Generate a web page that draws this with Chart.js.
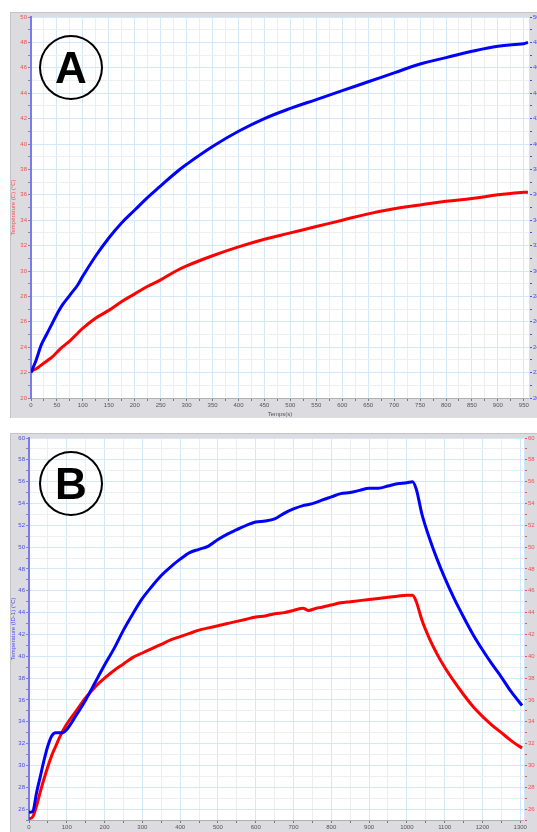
<!DOCTYPE html>
<html>
<head>
<meta charset="utf-8">
<script src="https://cdn.jsdelivr.net/npm/chart.js@4/dist/chart.umd.min.js"></script>
<style>
  html, body { margin: 0; padding: 0; background: #fff; }
  body { width: 537px; height: 832px; overflow: hidden; position: relative; font-family: "Liberation Sans", Arial, sans-serif; }
  canvas { position: absolute; }
  #chartA { left: 10px; top: 12px; }
  #chartB { left: 10px; top: 433px; }
  .badge {
    position: absolute; width: 60px; height: 61px; border: 2px solid #000; border-radius: 50%;
    font: bold 44px "Liberation Sans", Arial, sans-serif; line-height: 61px; text-align: center; color: #000;
  }
</style>
</head>
<body>
<canvas id="chartA" width="535" height="406"></canvas>
<canvas id="chartB" width="535" height="400"></canvas>
<div class="badge" style="left:39px; top:35px;">A</div>
<div class="badge" style="left:39px; top:451px;">B</div>
<script>
// Graphique A : temps (s) et températures (°C)
const timeA = [0, 10, 20, 30, 40, 50, 60, 75, 90, 100, 125, 150, 175, 200, 225, 250, 275, 300, 350, 400, 450, 500, 550, 600, 650, 700, 750, 800, 850, 900, 950, 958];
const blueA = [22.0, 23.0, 24.2, 25.0, 25.8, 26.6, 27.3, 28.1, 28.9, 29.6, 31.2, 32.6, 33.8, 34.8, 35.8, 36.7, 37.6, 38.4, 39.8, 41.0, 42.0, 42.8, 43.5, 44.2, 44.9, 45.6, 46.3, 46.8, 47.3, 47.7, 47.9, 48.0];
const redA = [22.1, 22.3, 22.6, 22.9, 23.2, 23.6, 24.0, 24.5, 25.1, 25.5, 26.3, 26.9, 27.6, 28.2, 28.8, 29.3, 29.9, 30.4, 31.2, 31.9, 32.5, 33.0, 33.5, 34.0, 34.5, 34.9, 35.2, 35.5, 35.7, 36.0, 36.2, 36.2];

// Graphique B
const timeB = [0, 10, 20, 30, 40, 50, 60, 70, 80, 90, 100, 125, 150, 175, 200, 225, 250, 275, 300, 325, 350, 375, 400, 425, 450, 475, 500, 525, 550, 575, 600, 625, 650, 675, 700, 725, 740, 760, 775, 800, 825, 850, 875, 900, 925, 950, 975, 1000, 1015, 1025, 1040, 1060, 1080, 1100, 1125, 1150, 1175, 1200, 1225, 1250, 1275, 1300, 1305];
const blueB = [25.7, 25.8, 27.5, 29.0, 30.5, 31.8, 32.7, 33.0, 33.0, 33.0, 33.3, 34.6, 36.0, 37.6, 39.2, 40.7, 42.4, 43.9, 45.3, 46.4, 47.4, 48.2, 48.9, 49.5, 49.8, 50.1, 50.7, 51.2, 51.6, 52.0, 52.3, 52.4, 52.6, 53.1, 53.5, 53.8, 53.9, 54.1, 54.3, 54.6, 54.9, 55.0, 55.2, 55.4, 55.4, 55.6, 55.8, 55.9, 56.0, 55.3, 53.0, 50.8, 48.9, 47.2, 45.3, 43.6, 42.0, 40.6, 39.3, 38.1, 36.8, 35.7, 35.5];
const redB = [25.1, 25.3, 26.3, 27.6, 28.8, 29.9, 30.9, 31.7, 32.5, 33.2, 33.8, 35.0, 36.2, 37.2, 38.0, 38.7, 39.3, 39.9, 40.3, 40.7, 41.1, 41.5, 41.8, 42.1, 42.4, 42.6, 42.8, 43.0, 43.2, 43.4, 43.6, 43.7, 43.9, 44.0, 44.2, 44.4, 44.2, 44.4, 44.5, 44.7, 44.9, 45.0, 45.1, 45.2, 45.3, 45.4, 45.5, 45.6, 45.6, 45.0, 43.3, 41.6, 40.2, 39.0, 37.7, 36.5, 35.4, 34.5, 33.7, 33.0, 32.3, 31.7, 31.6];

const titleA = 'Température (C) (°C)';
const titleB = 'Temperature (ID-1) (°C)';
const xTitleA = 'Temps(s)';

Chart.defaults.font.family = '"Liberation Sans", Arial, sans-serif';
Chart.defaults.font.size = 6;

const BLUE = '#0000ff';
const RED = '#ff0000';
const GRID_MAJOR = '#d3e9f9';
const GRID_MINOR = '#eeeeee';

function toPoints(xs, ys) {
    return xs.map((x, i) => ({ x: x, y: ys[i] }));
}

// fond gris du cadre + zone blanche
const framePlugin = {
    id: 'frame',
    beforeDraw(chart) {
        const ctx = chart.ctx;
        const a = chart.chartArea;
        ctx.save();
        ctx.fillStyle = '#dcdce0';
        ctx.fillRect(0, 0, chart.width, chart.height);
        ctx.fillStyle = '#c4c4c8';
        ctx.fillRect(0, 0, chart.width, 1);
        ctx.fillRect(0, 0, 1, chart.height);
        ctx.fillStyle = '#ffffff';
        ctx.fillRect(a.left, a.top, a.right - a.left, a.bottom - a.top);
        ctx.restore();
    }
};

function makeChart(id, cfg) {
    const ctx = document.getElementById(id).getContext('2d');
    const line = (ys, color) => ({
        data: toPoints(cfg.time, ys), borderColor: color, borderWidth: 3, pointRadius: 0,
        tension: cfg.tension, cubicInterpolationMode: cfg.mode, yAxisID: 'y'
    });
    return new Chart(ctx, {
        type: 'line',
        data: { datasets: [line(cfg.blue, BLUE), line(cfg.red, RED)] },
        options: {
            responsive: false,
            animation: false,
            devicePixelRatio: 1,
            layout: { padding: { top: 5, left: 0, right: 0, bottom: 0 } },
            plugins: { legend: { display: false }, tooltip: { enabled: false } },
            scales: {
                x: {
                    type: 'linear',
                    min: 0,
                    max: cfg.xMax,
                    afterFit: s => { s.height = cfg.xHeight; },
                    border: { color: '#b0b0b0' },
                    grid: {
                        color: c => (c.tick && c.tick.value % cfg.xLabelStep === 0) ? GRID_MAJOR : GRID_MINOR,
                        tickColor: '#777', tickLength: 3
                    },
                    ticks: {
                        stepSize: cfg.xStep, includeBounds: false, autoSkip: false, maxRotation: 0,
                        color: '#555', padding: 1,
                        callback: v => v % cfg.xLabelStep === 0 ? v : ''
                    },
                    title: { display: !!cfg.xTitle, text: cfg.xTitle, color: '#555', padding: 0, font: { size: 6 } }
                },
                y: {
                    position: 'left',
                    min: cfg.yMin,
                    max: cfg.yMax,
                    afterFit: s => { s.width = cfg.leftWidth; },
                    border: { color: '#7a7af0', width: 2 },
                    grid: {
                        color: c => (c.tick && c.tick.value % 2 === 0) ? GRID_MAJOR : GRID_MINOR,
                        tickColor: '#888', tickLength: 3
                    },
                    ticks: {
                        stepSize: 1, includeBounds: false, autoSkip: false,
                        color: cfg.leftColor, padding: 1,
                        callback: v => v % 2 === 0 ? v : ''
                    },
                    title: { display: true, text: cfg.yTitle, color: cfg.leftColor, padding: 0, font: { size: 6 } }
                },
                y2: {
                    position: 'right',
                    min: cfg.yMin,
                    max: cfg.yMax,
                    afterFit: s => { s.width = cfg.rightWidth; },
                    border: { color: '#d0e4f4' },
                    grid: { drawOnChartArea: false, color: cfg.rightColor, tickLength: 3 },
                    ticks: {
                        stepSize: 1, includeBounds: false, autoSkip: false,
                        color: cfg.rightColor, padding: 1,
                        callback: v => v % 2 === 0 ? v : ''
                    }
                }
            }
        },
        plugins: [framePlugin]
    });
}

document.addEventListener('DOMContentLoaded', () => {
    makeChart('chartA', {
        time: timeA, blue: blueA, red: redA, tension: 0.4, mode: 'default',
        xMax: 960, xStep: 25, xLabelStep: 50, xHeight: 20, xTitle: xTitleA,
        yMin: 20, yMax: 50, yTitle: titleA,
        leftWidth: 21, rightWidth: 16,
        leftColor: '#f05050', rightColor: '#4a4af0'
    });
    makeChart('chartB', {
        time: timeB, blue: blueB, red: redB, tension: 0.4, mode: 'monotone',
        xMax: 1310, xStep: 50, xLabelStep: 100, xHeight: 13, xTitle: '',
        yMin: 25, yMax: 60, yTitle: titleB,
        leftWidth: 19, rightWidth: 21,
        leftColor: '#4a4af0', rightColor: '#f05050'
    });
});
</script>
</body>
</html>
